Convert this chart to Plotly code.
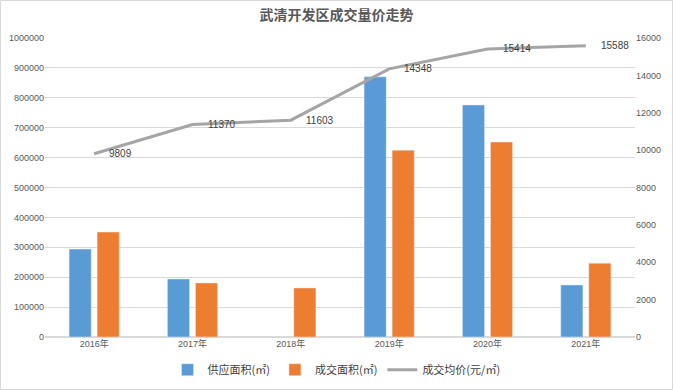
import plotly.graph_objects as go

years = ["2016年", "2017年", "2018年", "2019年", "2020年", "2021年"]
supply = [294000, 194000, None, 870000, 776000, 174000]
deal = [351000, 181000, 164000, 625000, 652000, 247000]
price = [9809, 11370, 11603, 14348, 15414, 15588]

FONT = "Liberation Sans, Noto Sans CJK SC, sans-serif"

fig = go.Figure()
fig.add_trace(go.Bar(x=years, y=supply, name="供应面积(㎡)", marker_color="#5b9bd5"))
fig.add_trace(go.Bar(x=years, y=deal, name="成交面积(㎡)", marker_color="#ed7d31"))
fig.add_trace(go.Scatter(x=years, y=price, name="成交均价(元/㎡)", yaxis="y2",
                         mode="lines", line=dict(color="#a5a5a5", width=3)))

for yr, v in zip(years, price):
    fig.add_annotation(x=yr, y=v, xref="x", yref="y2", text=str(v), showarrow=False,
                       xanchor="left", yanchor="middle", xshift=13,
                       font=dict(size=10, color="#404040", family=FONT))

fig.update_layout(
    width=673, height=390,
    margin=dict(l=45, r=38, t=38, b=53, autoexpand=False),
    paper_bgcolor="white", plot_bgcolor="white",
    font=dict(family=FONT, color="#595959", size=9),
    title=dict(text="<b>武清开发区成交量价走势</b>", x=0.5, xanchor="center", y=0.962, yanchor="middle",
               font=dict(size=14, color="#595959", family="Noto Sans CJK SC")),
    barmode="group", bargap=0.43, bargroupgap=0.21,
    xaxis=dict(showgrid=False, showline=False, ticks="", tickfont=dict(size=9, color="#595959")),
    yaxis=dict(range=[0, 1000000], dtick=100000, showgrid=True, gridcolor="#d9d9d9",
               zeroline=True, zerolinecolor="#d9d9d9", tickformat="d", ticks="",
               tickfont=dict(size=9, color="#595959")),
    yaxis2=dict(range=[0, 16000], dtick=2000, overlaying="y", side="right", showgrid=False,
                zeroline=False, tickformat="d", tickfont=dict(size=9, color="#595959")),
    legend=dict(orientation="h", x=0.5, xanchor="center", xref="container",
                y=0.052, yanchor="middle", yref="container",
                font=dict(size=11, color="#404040", family="Noto Sans CJK SC"),
                traceorder="normal", itemwidth=30, tracegroupgap=0),
    showlegend=True,
)

# outer border
pw = 673 - 45 - 38
ph = 390 - 38 - 53
fig.add_shape(type="rect", xref="paper", yref="paper",
              x0=(-45 + 0.5) / pw, x1=(673 - 45 - 0.5) / pw,
              y0=(-53 + 0.5) / ph, y1=(390 - 53 - 0.5) / ph,
              line=dict(color="#d9d9d9", width=1), layer="below")

fig.write_html("out.html", config={"displayModeBar": False},
               post_script="document.body.style.margin='0';document.body.style.overflow='hidden';")
